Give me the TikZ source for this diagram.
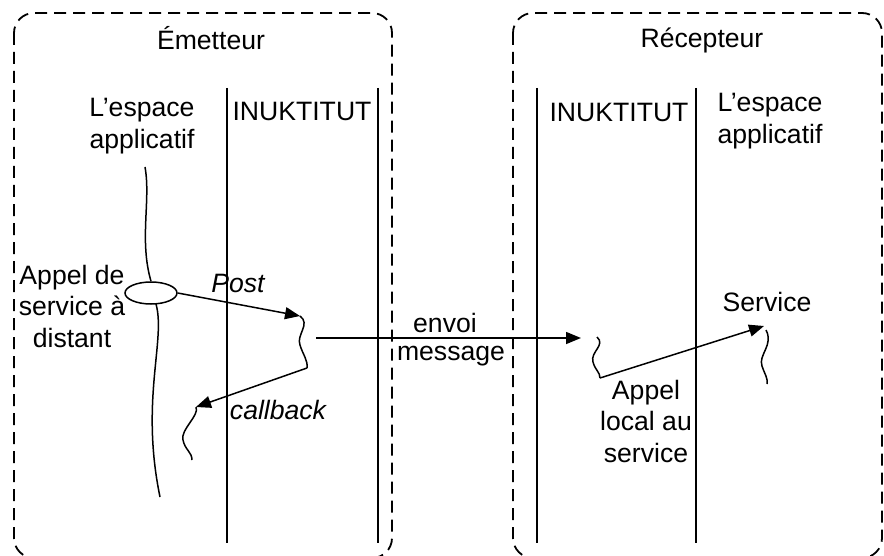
\documentclass[tikz,border=0pt]{standalone}
\usepackage{fontspec}
\setmainfont{Liberation Sans}
\usetikzlibrary{arrows.meta,shapes.geometric}
\begin{document}
\begin{tikzpicture}[x=0.5pt,y=-0.5pt,
  lbl/.style={inner sep=0pt, align=center, font=\fontsize{13.3}{15.75}\selectfont},
  ilbl/.style={lbl, font=\fontsize{13.3}{15.75}\selectfont\itshape},
  grp/.style={draw, dash pattern=on 6pt off 3.5pt, line width=0.9pt, rounded corners=10pt},
  lane/.style={line width=0.75pt},
  wavy/.style={line width=0.75pt},
  msg/.style={line width=0.75pt, -{Triangle[length=7.5pt,width=6pt]}},
]
\clip (0,0) rectangle (884,556);
\fill[white] (0,0) rectangle (884,556);
% groups
\draw[grp] (14,13) rectangle (392,558);
\draw[grp] (513,13) rectangle (882,558);
% lanes
\draw[lane] (227,88) -- (227,543);
\draw[lane] (378,88) -- (378,543);
\draw[lane] (537,88) -- (537,543);
\draw[lane] (696,88) -- (696,543);
% titles
\node[lbl] (em) at (211,38) {Émetteur};
\node[lbl] (rec) at (702,40) {Récepteur};
\node[lbl] (espL) at (142,126) {L’espace\\applicatif};
\node[lbl] (inuL) at (302,111) {INUKTITUT};
\node[lbl] (inuR) at (619,112) {INUKTITUT};
\node[lbl] (espR) at (770,121) {L’espace\\applicatif};
% left application
\coordinate (lt) at (145,167);
\node[draw, ellipse, line width=0.75pt, minimum width=26pt, minimum height=11pt, inner sep=0pt] (call) at (151,293) {};
\coordinate (lb0) at (156,304);
\coordinate (lb) at (160,497);
\draw[wavy] (lt) .. controls (151,200) and (139,240) .. (call.north);
\draw[wavy] (lb0) .. controls (166,340) and (140,400) .. (lb);
\node[lbl] (appd) at (72,306) {Appel de\\service à\\distant};
% post
\coordinate (p1) at (300,316);
\coordinate (pm) at (300,345);
\coordinate (p2) at (307,368);
\draw[msg] (call.east) -- (p1);
\node[ilbl] (post) at (238,283) {Post};
\draw[wavy] (p1) .. controls (311,324) and (296,335) .. (pm) .. controls (303,355) and (308,360) .. (p2);
% callback
\coordinate (c1) at (196,407);
\coordinate (cm) at (183,440);
\coordinate (c2) at (192,460);
\draw[msg] (p2) -- (c1);
\draw[wavy] (c1) .. controls (200,415) and (180,430) .. (cm) .. controls (185,450) and (192,452) .. (c2);
\node[ilbl] (cb) at (278,410) {callback};
% message
\coordinate (h0) at (316,338);
\coordinate (h1) at (581,338);
\draw[msg] (h0) -- (h1);
\node[lbl] (envoi) at (445,323) {envoi};
\node[lbl] (mess) at (451,356) {message};
% right side
\coordinate (r0) at (597,337);
\coordinate (rm) at (593,362);
\coordinate (r1) at (600,378);
\draw[wavy] (r0) .. controls (606,345) and (590,352) .. (rm) .. controls (595,370) and (600,372) .. (r1);
\coordinate (s0) at (764,326);
\coordinate (s1) at (766,330);
\coordinate (sm) at (762,366);
\coordinate (s2) at (767,384);
\draw[msg] (r1) -- (s0);
\draw[wavy] (s1) .. controls (774,345) and (758,355) .. (sm) .. controls (765,375) and (768,378) .. (s2);
\node[lbl] (serv) at (767,302) {Service};
\node[lbl] (appl) at (646,421) {Appel\\local au\\service};
\end{tikzpicture}
\end{document}
